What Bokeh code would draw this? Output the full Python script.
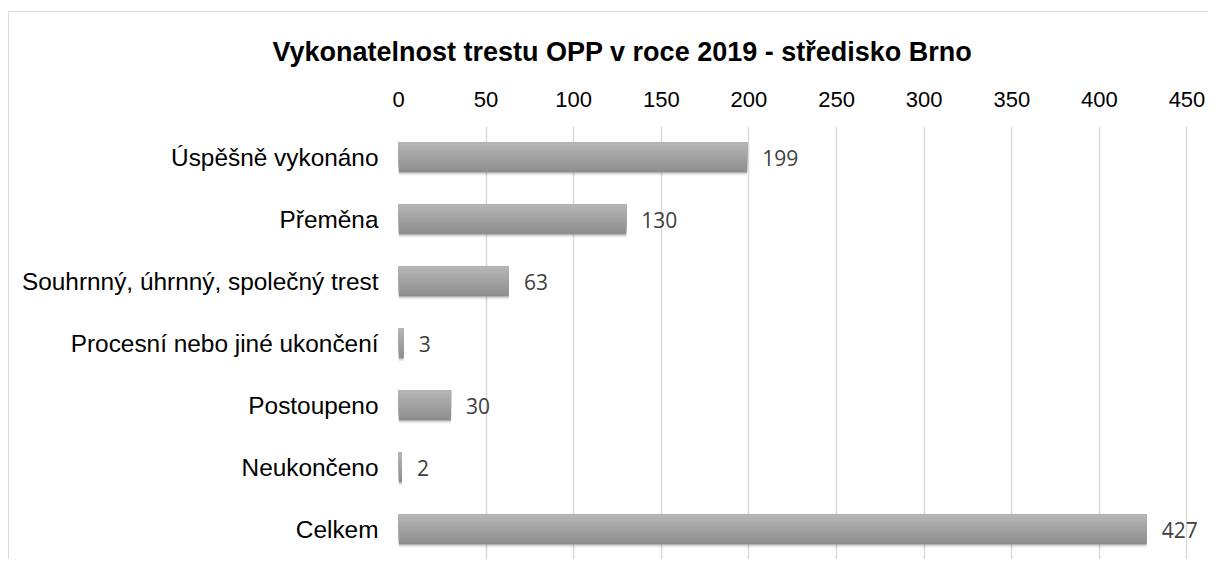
from bokeh.plotting import figure
from bokeh.models import ColumnDataSource, FactorRange, Range1d, FixedTicker, Title
from bokeh.transform import dodge
from bokeh.core.properties import value
from bokeh.embed import file_html
from bokeh.resources import INLINE

title_text = "Vykonatelnost trestu OPP v roce 2019 - středisko Brno"
categories = ["Úspěšně vykonáno", "Přeměna", "Souhrnný, úhrnný, společný trest",
              "Procesní nebo jiné ukončení", "Postoupeno", "Neukončeno", "Celkem"]
values = [199, 130, 63, 3, 30, 2, 427]
tick_values = [0, 50, 100, 150, 200, 250, 300, 350, 400, 450]

source = ColumnDataSource(dict(cat=categories, val=values,
                               lab=[str(v) for v in values]))

p = figure(width=1200, height=548, output_backend="svg", toolbar_location=None,
           y_range=FactorRange(factors=list(reversed(categories)), range_padding=0),
           x_range=Range1d(0, 460), x_axis_location="above",
           min_border_left=389, min_border_right=5, min_border_top=113,
           min_border_bottom=0, outline_line_color=None,
           margin=(11, 0, 0, 8),
           styles={"border-left": "1px solid #d9d9d9", "border-top": "1px solid #d9d9d9"})

p.title = Title(text=title_text, align="left", offset=-126, standoff=44,
                text_font="Liberation Sans", text_font_size="27px",
                text_font_style="bold", text_color="#000000")

H = 0.484
# soft shadow
p.hbar(y=dodge("cat", -0.05, range=p.y_range), right="val", left=0, height=H,
       source=source, fill_color="#000000", fill_alpha=0.06, line_color=None)
p.hbar(y=dodge("cat", -0.03, range=p.y_range), right="val", left=0, height=H,
       source=source, fill_color="#000000", fill_alpha=0.10, line_color=None)

# gradient body: nested bars sharing the top edge, lighter towards the top
N = 12
c_top = (0xb5, 0xb5, 0xb5)
c_bot = (0x8e, 0x8e, 0x8e)
for k in range(N):
    t = 1 - k / (N - 1)
    c = tuple(int(round(a + (b - a) * t)) for a, b in zip(c_top, c_bot))
    col = "#%02x%02x%02x" % c
    hk = H * (N - k) / N
    off = H / 2 - hk / 2
    p.hbar(y=dodge("cat", off, range=p.y_range), right="val", left=0,
           height=hk, source=source, fill_color=col, line_color=None)

p.text(x="val", y="cat", text="lab", source=source, x_offset=15,
       text_align="left", text_baseline="middle",
       text_font=value("Open Sans"), text_font_size="21px", text_color="#404040")

ticker = FixedTicker(ticks=tick_values)
p.xaxis.ticker = ticker
p.xgrid.ticker = ticker
p.xaxis.axis_line_color = None
p.xaxis.major_tick_line_color = None
p.xaxis.minor_tick_line_color = None
p.xaxis.major_label_standoff = 14
p.xaxis.major_label_text_font = "Liberation Sans"
p.xaxis.major_label_text_font_size = "22px"
p.xaxis.major_label_text_color = "#000000"

p.yaxis.axis_line_color = None
p.yaxis.major_tick_line_color = None
p.yaxis.minor_tick_line_color = None
p.yaxis.major_label_standoff = 14
p.yaxis.major_label_text_font = "Liberation Sans"
p.yaxis.major_label_text_font_size = "24.4px"
p.yaxis.major_label_text_color = "#000000"

p.xgrid.grid_line_color = "#d9d9d9"
p.xgrid.grid_line_width = 1.5
p.ygrid.grid_line_color = None

open("out.html", "w").write(file_html(p, INLINE))
